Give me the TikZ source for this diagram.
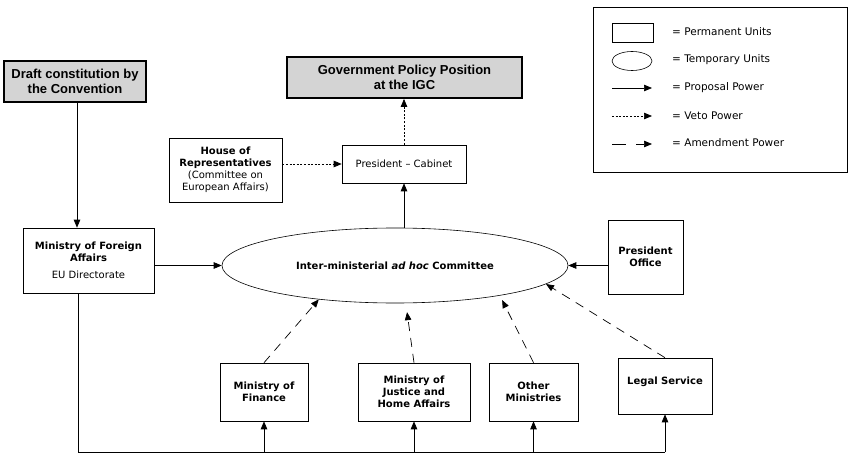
\documentclass[tikz,border=0pt]{standalone}
\usepackage{fontspec}
\setmainfont{DejaVu Sans}
\newfontfamily\headfont{Liberation Sans}
\usetikzlibrary{shapes.geometric,arrows.meta}
\definecolor{boxgray}{RGB}{212,212,212}
\tikzstyle{line} = [draw, line width=0.7pt, -{Triangle[length=8pt,width=6.5pt]}]
\tikzstyle{linedot} = [line, dash pattern=on 2pt off 1.6pt]
\tikzstyle{linedash} = [line, dash pattern=on 9pt off 7pt]
\tikzstyle{unit} = [draw, line width=0.6pt, rectangle, align=center, inner sep=2pt, font=\bfseries\fontsize{10}{12}\selectfont]
\tikzstyle{headbox} = [draw, line width=1.8pt, fill=boxgray, align=center, font=\headfont\bfseries\fontsize{13}{15}\selectfont]
\tikzstyle{temp} = [draw, line width=0.6pt, ellipse, inner sep=0pt, font=\bfseries\fontsize{10}{12}\selectfont]
\tikzstyle{legtext} = [anchor=west, inner sep=0pt, font=\fontsize{10.5}{12}\selectfont]

\begin{document}
\begin{tikzpicture}[x=1pt, y=-1pt]
    \useasboundingbox (0,0) rectangle (850,454);
    \node [headbox, minimum width=142, minimum height=41] (draft) at (75,81.5) {Draft constitution by\\the Convention};
    \node [headbox, minimum width=235, minimum height=41] (gov) at (404.5,77.5) {Government Policy Position\\at the IGC};
    \node [unit, minimum width=124, minimum height=38, font=\fontsize{10}{12}\selectfont] (prescab) at (404,164) {President -- Cabinet};
    \node [unit, minimum width=113, minimum height=64] (house) at (225.5,170) {House of\\Representatives\\\mdseries(Committee on\\\mdseries European Affairs)};
    \node [unit, minimum width=131, minimum height=65] (mfa) at (88.5,260.5) {Ministry of Foreign\\Affairs\\[5pt]\mdseries EU Directorate};
    \node [temp, minimum width=346, minimum height=75] (committee) at (395,265.5) {Inter-ministerial \textit{ad hoc} Committee};
    \node [unit, minimum width=75, minimum height=74] (presoff) at (645.5,257) {President\\Office};
    \node [unit, minimum width=88, minimum height=58] (finance) at (264,392) {Ministry of\\Finance};
    \node [unit, minimum width=112, minimum height=58] (justice) at (414,392) {Ministry of\\Justice and\\Home Affairs};
    \node [unit, minimum width=89, minimum height=58] (other) at (533.5,392) {Other\\Ministries};
    \node [unit, minimum width=94, minimum height=56, text depth=10pt] (legal) at (665,386) {Legal Service};
    \coordinate (base) at (78,452);

    \path [line] (draft.south -| 77,0) -- (mfa.north -| 77,0);
    \path [line] (mfa.east |- committee.west) -- (committee.west);
    \path [line] (presoff.west |- committee.east) -- (committee.east);
    \path [line] (prescab.south |- committee.north) -- (prescab.south);
    \path [linedot] (house.east |- prescab.west) -- (prescab.west);
    \path [linedot] (prescab.north) -- (prescab.north |- gov.south);
    \path [linedash] (finance.north) -- (committee.204);
    \path [linedash, shorten >=9pt] (justice.north) -- (committee.286);
    \path [linedash, shorten >=5pt] (other.north) -- (committee.344);
    \path [linedash] (legal.north) -- (committee.353);
    \draw [line width=0.7pt] (mfa.south -| base) -- (base) -- (base -| legal.south);
    \path [line] (base -| finance.south) -- (finance.south);
    \path [line] (base -| justice.south) -- (justice.south);
    \path [line] (base -| other.south) -- (other.south);
    \path [line] (base -| legal.south) -- (legal.south);

    \node [draw, line width=0.6pt, minimum width=254, minimum height=165] (legend) at (720,89.5) {};
    \node [unit, minimum width=41, minimum height=19] (permicon) at (632.5,32.5) {};
    \node [temp, minimum width=40, minimum height=19] (tempicon) at (632,61) {};
    \coordinate (propA) at (612,88);
    \coordinate (propB) at (652,88);
    \coordinate (vetoA) at (612,116);
    \coordinate (vetoB) at (652,116);
    \coordinate (amendA) at (612,144);
    \coordinate (amendB) at (652,144);
    \path [line] (propA) -- (propB);
    \path [linedot] (vetoA) -- (vetoB);
    \path [linedash, dash pattern=on 14pt off 10pt] (amendA) -- (amendB);
    \node [legtext] (permtext) at (672,32) {= Permanent Units};
    \node [legtext] (temptext) at (672,60) {= Temporary Units};
    \node [legtext] (proptext) at (672,88) {= Proposal Power};
    \node [legtext] (vetotext) at (672,116) {= Veto Power};
    \node [legtext] (amendtext) at (672,143) {= Amendment Power};
\end{tikzpicture}
\end{document}
